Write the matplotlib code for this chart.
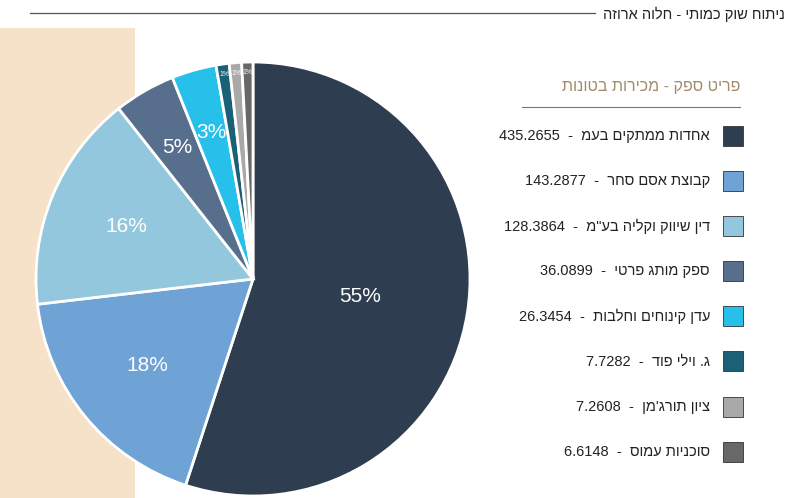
import matplotlib.pyplot as plt
from matplotlib.patches import Rectangle
from matplotlib.lines import Line2D

plt.rcParams['font.family'] = ['Liberation Sans Narrow', 'Liberation Sans', 'DejaVu Sans']

# Data
suppliers = ['אחדות ממתקים בעמ', 'קבוצת אסם סחר', 'דין שיווק וקליה בע"מ', 'ספק מותג פרטי',
             'עדן קינוחים וחלבות', 'ג. וילי פוד', "ציון תורג'מן", 'סוכניות עמוס']
tons = [435.2655, 143.2877, 128.3864, 36.0899, 26.3454, 7.7282, 7.2608, 6.6148]
colors = ['#2e3d4f', '#6fa3d6', '#93c7de', '#586e8d', '#27c0ea', '#1b6077', '#a9a9a9', '#686868']
title = 'ניתוח שוק כמותי - חלוה ארוזה'
legend_title = 'פריט ספק - מכירות בטונות'


def vis(s):
    # matplotlib has no bidi: flip to visual order for RTL text
    out = []
    for t in reversed(s.split(' ')):
        if any('\u0590' <= c <= '\u05ff' for c in t):
            out.append(t[::-1])
        else:
            out.append(t)
    return ' '.join(out)


W, H = 800, 498
fig = plt.figure(figsize=(8, 4.98), dpi=100)
fig.patch.set_facecolor('white')

# beige band on the left
fig.patches.append(Rectangle((0, 0), 135 / W, 1 - 28 / H, transform=fig.transFigure,
                             facecolor='#f6e2c8', edgecolor='none', zorder=-5))

# header
fig.add_artist(Line2D([30 / W, 595 / W], [1 - 13 / H, 1 - 13 / H], color='#555555', lw=0.9))
fig.text(785 / W, 1 - 14 / H, vis(title), ha='right', va='center', fontsize=10.5, color='#222222')

# pie
cx, cy, r = 253, 279, 217
ax = fig.add_axes([(cx - r) / W, (H - cy - r) / H, 2 * r / W, 2 * r / H], zorder=2)
ax.patch.set_alpha(0)
wedges, texts, autotexts = ax.pie(tons, colors=colors, startangle=90, counterclock=False,
                                  autopct='%1.0f%%', pctdistance=0.63,
                                  wedgeprops=dict(edgecolor='white', linewidth=2),
                                  textprops=dict(color='white', fontsize=15))
total = sum(tons)
for w, t, v in zip(wedges, autotexts, tons):
    x, y = t.get_position()
    share = v / total
    if share < 0.02:
        k = 0.95
        t.set_fontsize(5)
    elif share < 0.06:
        k = 0.7
    elif share > 0.5:
        k = 0.5
    else:
        k = 0.63
    t.set_position((x / 0.63 * k, y / 0.63 * k))
ax.set_xlim(-1, 1)
ax.set_ylim(-1, 1)
ax.set_aspect('equal')
ax.axis('off')

# legend
fig.text(740 / W, 1 - 87 / H, vis(legend_title), ha='right', va='center', fontsize=11.5,
         color='#a08c6c')
fig.add_artist(Line2D([522 / W, 740 / W], [1 - 107 / H, 1 - 107 / H], color='#777777', lw=0.8))
for i, (name, val, c) in enumerate(zip(suppliers, tons, colors)):
    y = 136 + i * 45.1
    fig.patches.append(Rectangle((723 / W, 1 - (y + 10) / H), 20 / W, 20 / H,
                                 transform=fig.transFigure, facecolor=c,
                                 edgecolor='#333333', lw=0.6))
    fig.text(710 / W, 1 - y / H, vis(f'{name}  -  {val}'), ha='right', va='center',
             fontsize=10.5, color='#222222')

fig.savefig('out.png', dpi=100)
